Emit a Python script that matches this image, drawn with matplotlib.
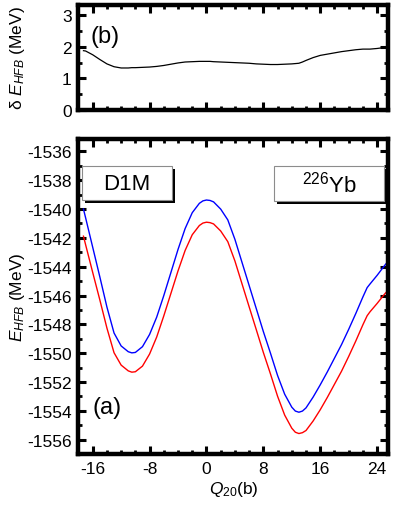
import matplotlib
matplotlib.use('Agg')
import matplotlib.pyplot as plt
from matplotlib.patches import Rectangle
from matplotlib.ticker import MultipleLocator
from matplotlib.transforms import offset_copy

plt.rcParams['font.family'] = 'Liberation Sans'
plt.rcParams['mathtext.fontset'] = 'custom'
plt.rcParams['mathtext.rm'] = 'Liberation Sans'
plt.rcParams['mathtext.it'] = 'Liberation Sans:italic'
plt.rcParams['axes.unicode_minus'] = False

# Q20 (b)
q20 = [-17.3, -17, -16, -15, -14, -13, -12, -11, -10.5, -10, -9, -8, -7, -6, -5, -4, -3, -2, -1,
       -0.5, 0, 0.5, 1, 2, 3, 4, 5, 6, 7, 8, 9, 10, 11, 12, 12.5, 13, 13.5, 14, 15, 16, 17, 18,
       19, 20, 21, 22, 22.6, 23, 24, 25, 25.5]
# E_HFB (MeV), blue curve
e_blue = [-1540.00, -1540.60, -1542.65, -1544.70, -1546.80, -1548.60, -1549.50, -1549.90,
          -1549.98, -1549.95, -1549.55, -1548.70, -1547.50, -1546.00, -1544.40, -1542.80,
          -1541.35, -1540.25, -1539.60, -1539.43, -1539.37, -1539.40, -1539.50, -1540.00,
          -1540.75, -1542.10, -1543.70, -1545.30, -1546.90, -1548.50, -1550.00, -1551.55,
          -1552.85, -1553.75, -1554.02, -1554.10, -1554.02, -1553.80, -1553.05, -1552.20,
          -1551.30, -1550.35, -1549.40, -1548.35, -1547.25, -1546.10, -1545.45, -1545.20,
          -1544.60, -1543.95, -1543.65]
# E_HFB (MeV), red curve
e_red = [-1541.88, -1542.47, -1544.40, -1546.30, -1548.26, -1549.97, -1550.83, -1551.23,
         -1551.32, -1551.29, -1550.90, -1550.06, -1548.88, -1547.41, -1545.85, -1544.29,
         -1542.87, -1541.78, -1541.14, -1540.97, -1540.91, -1540.94, -1541.03, -1541.52,
         -1542.26, -1543.60, -1545.19, -1546.78, -1548.36, -1549.95, -1551.44, -1552.99,
         -1554.30, -1555.21, -1555.49, -1555.58, -1555.52, -1555.37, -1554.71, -1553.93,
         -1553.07, -1552.16, -1551.25, -1550.23, -1549.16, -1548.03, -1547.40, -1547.13,
         -1546.55, -1545.93, -1545.65]
# delta E_HFB (MeV)
d_e = [1.88, 1.87, 1.75, 1.60, 1.46, 1.37, 1.33, 1.33, 1.34, 1.34, 1.35, 1.36, 1.38, 1.41,
       1.45, 1.49, 1.52, 1.53, 1.54, 1.54, 1.54, 1.54, 1.53, 1.52, 1.51, 1.50, 1.49, 1.48,
       1.46, 1.45, 1.44, 1.44, 1.45, 1.46, 1.47, 1.48, 1.52, 1.57, 1.66, 1.73, 1.77, 1.81,
       1.85, 1.88, 1.91, 1.93, 1.93, 1.93, 1.95, 1.98, 2.00]

fs = 12.5


def style_axes(ax, ymajor, yminor):
    for sp in ax.spines.values():
        sp.set_linewidth(3.2)
    ax.xaxis.set_major_locator(MultipleLocator(8))
    ax.xaxis.set_minor_locator(MultipleLocator(2))
    ax.yaxis.set_major_locator(MultipleLocator(ymajor))
    ax.yaxis.set_minor_locator(MultipleLocator(yminor))
    ax.tick_params(which='both', direction='in', top=True, right=True, labelsize=fs)
    ax.tick_params(which='major', length=5.5, width=2.2, pad=5)
    ax.tick_params(which='minor', length=3, width=2.0)


def shadow_box(ax, fig, x0, y0, w, h, text):
    tr = offset_copy(ax.transAxes, fig=fig, x=2.2, y=-2.2, units='points')
    ax.add_patch(Rectangle((x0, y0), w, h, transform=tr, facecolor='black',
                           edgecolor='black', lw=0, zorder=5))
    ax.add_patch(Rectangle((x0, y0), w, h, transform=ax.transAxes, facecolor='white',
                           edgecolor='0.55', lw=0.8, zorder=6))
    ax.text(x0 + w / 2, y0 + h / 2, text, transform=ax.transAxes, ha='center',
            va='center', fontsize=16, zorder=7)


fig = plt.figure(figsize=(3.95, 5.06), dpi=100)
ax_b = fig.add_axes([0.1987, 0.781, 0.7848, 0.207])
ax_a = fig.add_axes([0.1987, 0.1008, 0.7848, 0.6235])

# panel (b)
ax_b.plot(q20, d_e, color='black', lw=0.9)
ax_b.set_xlim(-18, 25.6)
ax_b.set_ylim(0, 3.33)
style_axes(ax_b, 1, 0.5)
ax_b.tick_params(labelbottom=False)
ax_b.set_ylabel('δ $E_{HFB}$ (MeV)', fontsize=fs)
ax_b.yaxis.set_label_coords(-0.165, 0.5)
ax_b.text(0.04, 0.70, '(b)', transform=ax_b.transAxes, fontsize=17, va='center')

# panel (a)
ax_a.plot(q20, e_blue, color='blue', lw=1.0)
ax_a.plot(q20, e_red, color='red', lw=1.0)
ax_a.set_xlim(-18, 25.6)
ax_a.set_ylim(-1557, -1535.1)
style_axes(ax_a, 2, 1)
ax_a.set_xlabel(r'$Q_{\mathrm{20}}$(b)', fontsize=fs, labelpad=2)
ax_a.set_ylabel(r'$E_{HFB}$ (MeV)', fontsize=fs)
ax_a.yaxis.set_label_coords(-0.165, 0.5)
ax_a.text(0.045, 0.15, '(a)', transform=ax_a.transAxes, fontsize=17, va='center')

shadow_box(ax_a, fig, 0.012, 0.805, 0.29, 0.107, 'D1M')
shadow_box(ax_a, fig, 0.632, 0.803, 0.355, 0.109, r'$^{226}$Yb')

fig.savefig('out.png', dpi=100)
